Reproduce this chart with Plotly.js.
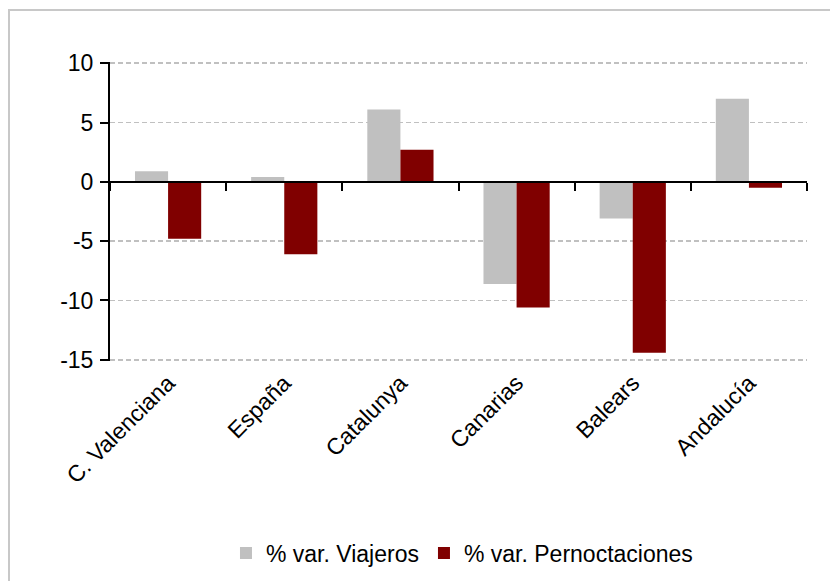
<!DOCTYPE html>
<html>
<head>
<meta charset="utf-8">
<script src="https://cdn.plot.ly/plotly-3.0.1.min.js"></script>
<style>
  html, body { margin: 0; padding: 0; background: #fff; }
  #wrap { position: relative; width: 830px; height: 581px; overflow: hidden; }
  #chart { width: 830px; height: 581px; }
  #frame { position: absolute; left: 8px; top: 9px; width: 900px; height: 700px;
           border-left: 2px solid #c8c8c8; border-top: 2px solid #c8c8c8; pointer-events: none; }
</style>
</head>
<body>
<div id="wrap">
  <div id="chart"></div>
  <div id="frame"></div>
</div>
<script>
const categories = ["C. Valenciana", "España", "Catalunya", "Canarias", "Balears", "Andalucía"];
const viajeros = [0.9, 0.4, 6.1, -8.6, -3.1, 7.0];
const pernoctaciones = [-4.8, -6.1, 2.7, -10.6, -14.4, -0.5];
const seriesNames = ["% var. Viajeros", "% var. Pernoctaciones"];
const yTicks = [-15, -10, -5, 0, 5, 10];

const FONT = "Liberation Sans, Arial, sans-serif";
const FS = 23;
const yMin = -15, yMax = 10, pad = 0.1;

const traces = [
  { type: "bar", name: seriesNames[0], x: categories, y: viajeros,
    marker: { color: "#c0c0c0" }, hoverinfo: "x+y" },
  { type: "bar", name: seriesNames[1], x: categories, y: pernoctaciones,
    marker: { color: "#800000" }, hoverinfo: "x+y" },
  { type: "scatter", mode: "markers", x: [categories[0]], y: [null], xaxis: "x2", yaxis: "y",
    showlegend: false, hoverinfo: "skip" }
];

const layout = {
  width: 830, height: 581,
  margin: { l: 110, r: 23, t: 62, b: 220, autoexpand: false },
  paper_bgcolor: "#ffffff", plot_bgcolor: "#ffffff",
  font: { family: FONT, size: FS, color: "#000000" },
  barmode: "group", bargap: 0.43, bargroupgap: 0,
  showlegend: true,
  legend: { orientation: "h", x: 0.505, xanchor: "center", y: -0.642, yanchor: "middle",
            font: { family: FONT, size: FS, color: "#000" }, traceorder: "normal",
            itemwidth: 30 },
  xaxis: {
    type: "category", showline: false, ticks: "", showgrid: false, zeroline: false,
    tickangle: -45, ticklabelstandoff: 3, automargin: false,
    tickfont: { family: FONT, size: FS, color: "#000" }
  },
  xaxis2: {
    type: "category", overlaying: "x", matches: "x", anchor: "free",
    position: (0 - (yMin - pad)) / ((yMax + pad) - (yMin - pad)),
    showline: true, linecolor: "#000", linewidth: 2,
    ticks: "outside", tickson: "boundaries", ticklen: 8, tickwidth: 2, tickcolor: "#000",
    showticklabels: false, showgrid: false, zeroline: false
  },
  yaxis: {
    range: [yMin - pad, yMax + pad], tickvals: yTicks, ticktext: yTicks.map(String),
    showline: true, linecolor: "#000", linewidth: 2,
    ticks: "outside", ticklen: 8, tickwidth: 2, tickcolor: "#000",
    ticklabelstandoff: 2, automargin: false,
    showgrid: true, gridcolor: "#c0c0c0", gridwidth: 1.5, griddash: "5px,3px",
    zeroline: true, zerolinecolor: "#000", zerolinewidth: 2,
    tickfont: { family: FONT, size: FS, color: "#000" }
  }
};

Plotly.newPlot("chart", traces, layout, { displayModeBar: false, staticPlot: true });
</script>
</body>
</html>
